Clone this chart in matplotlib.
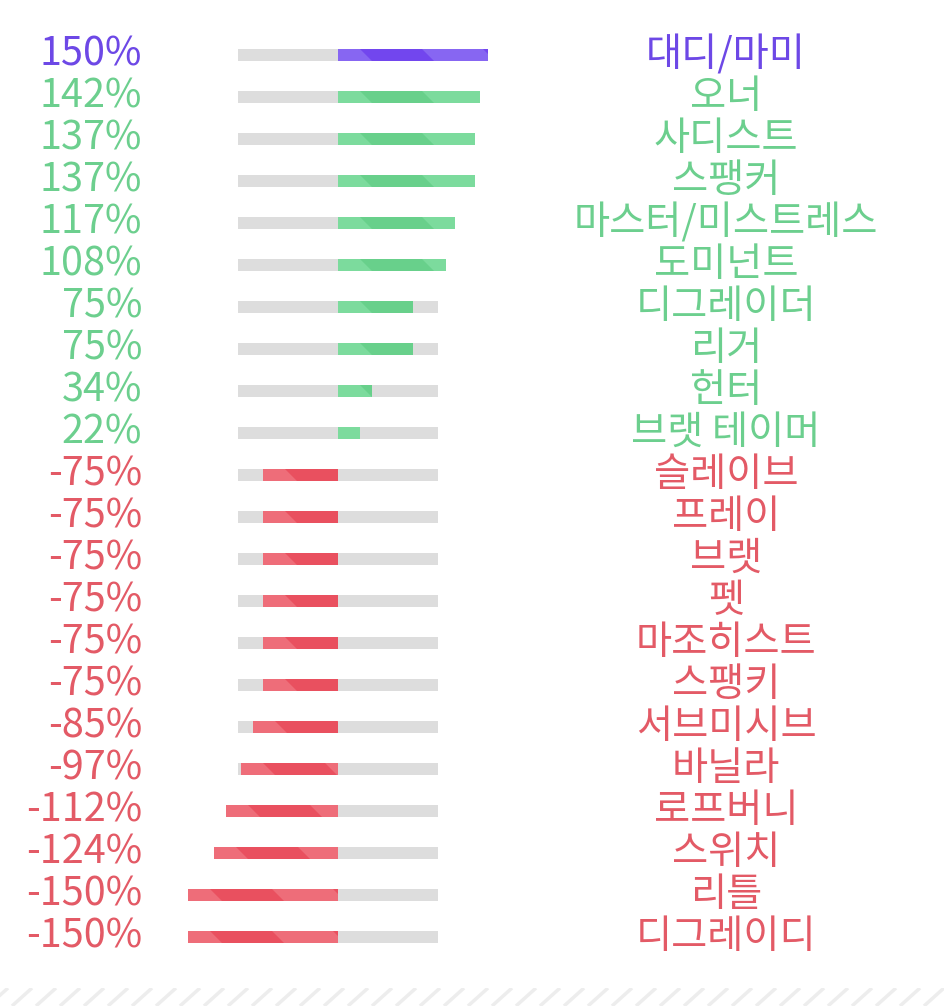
import matplotlib
matplotlib.use('Agg')
import matplotlib.pyplot as plt
from matplotlib.patches import Polygon, Rectangle
from matplotlib.lines import Line2D

plt.rcParams['font.family'] = ['Noto Sans CJK KR', 'DejaVu Sans']

labels = ['대디/마미', '오너', '사디스트', '스팽커', '마스터/미스트레스', '도미넌트',
          '디그레이더', '리거', '헌터', '브랫 테이머', '슬레이브', '프레이', '브랫', '펫',
          '마조히스트', '스팽키', '서브미시브', '바닐라', '로프버니', '스위치', '리틀',
          '디그레이디']
values = [150, 142, 137, 137, 117, 108, 75, 75, 34, 22,
          -75, -75, -75, -75, -75, -75, -85, -97, -112, -124, -150, -150]

# (light, dark, text)
PURPLE = ('#8766f2', '#7246ee', '#6d48e6')
GREEN = ('#7cdb9d', '#68d08b', '#6ccf8e')
RED = ('#ee6d79', '#e9505f', '#e35a66')

W, H = 945, 1006
fig = plt.figure(figsize=(W / 100, H / 100), dpi=100)

# bar axes: -150..150 % over x px 188..488, rows over y px 34..958
ax = fig.add_axes([188 / W, 1 - 958 / H, 300 / W, 924 / H])
ax.set_xlim(-150, 150)
ax.set_ylim(len(values) - 0.5, -0.5)
ax.axis('off')

bh = 12 / 42
n = len(values)
ys = list(range(n))

ax.barh(ys, [200] * n, left=-100, height=bh, color='#dddddd', lw=0)

for i, v in enumerate(values):
    if i == 0:
        c = PURPLE
    elif v > 0:
        c = GREEN
    else:
        c = RED
    bar = ax.barh(i, v, height=bh, color=c[0], lw=0)[0]
    x0, x1 = min(0, v), max(0, v)
    top, bot = i - bh / 2, i + bh / 2
    s = x0 + 22
    while s < x1:
        p = Polygon([(s, top), (s + 62, top), (s + 74, bot), (s + 12, bot)],
                    closed=True, color=c[1], lw=0)
        ax.add_patch(p)
        p.set_clip_path(bar)
        s += 123
    ax.text(-196, i, f'{v}%', ha='right', va='center', fontsize=28.5,
            color=c[2], clip_on=False)
    ax.text(388, i, labels[i], ha='center', va='center', fontsize=28.3,
            color=c[2], clip_on=False)

# diagonal-striped strip at the bottom (figure pixel coordinates)
strip = fig.add_axes([0, 0, 1, 18 / H])
strip.set_xlim(0, W)
strip.set_ylim(0, 18)
strip.axis('off')
for x in range(-12, W + 24, 24):
    strip.add_line(Line2D([x, x + 20], [0, 18], color='#ededed', lw=2.5,
                          solid_capstyle='butt'))

fig.savefig('out.png', dpi=100, facecolor='white')
